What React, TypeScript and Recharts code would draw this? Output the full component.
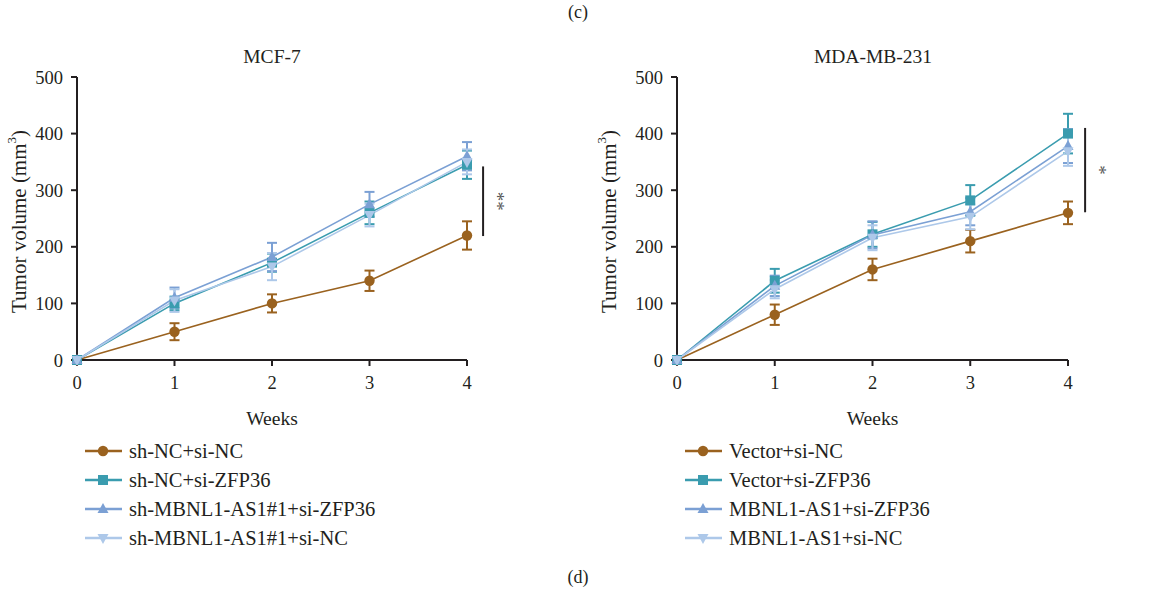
import React from "react";
import {
  LineChart,
  Line,
  XAxis,
  YAxis,
  ErrorBar,
  ReferenceLine,
} from "recharts";

const weeks = [0, 1, 2, 3, 4];
const yTicks = [0, 100, 200, 300, 400, 500];

// MCF-7
const mcfNames = [
  "sh-NC+si-NC",
  "sh-NC+si-ZFP36",
  "sh-MBNL1-AS1#1+si-ZFP36",
  "sh-MBNL1-AS1#1+si-NC",
];
const mcfMeans = [
  [0, 50, 100, 140, 220],
  [0, 100, 172, 260, 345],
  [0, 110, 182, 275, 360],
  [0, 105, 165, 256, 350],
];
const mcfErrs = [
  [0, 15, 16, 18, 25],
  [0, 12, 16, 20, 25],
  [0, 18, 25, 22, 25],
  [0, 20, 24, 20, 22],
];

// MDA-MB-231
const mdaNames = [
  "Vector+si-NC",
  "Vector+si-ZFP36",
  "MBNL1-AS1+si-ZFP36",
  "MBNL1-AS1+si-NC",
];
const mdaMeans = [
  [0, 80, 160, 210, 260],
  [0, 140, 222, 282, 400],
  [0, 131, 221, 262, 378],
  [0, 125, 216, 253, 369],
];
const mdaErrs = [
  [0, 18, 19, 20, 20],
  [0, 21, 22, 27, 35],
  [0, 18, 24, 24, 30],
  [0, 16, 22, 22, 26],
];

const colors = ["#9a621f", "#3a9caf", "#7ba0d4", "#adc8e9"];
const shapes = ["circle", "square", "up", "down"];
const FONT = "'Liberation Serif', 'DejaVu Serif', serif";
const INK = "#231f20";

function Marker({ cx, cy, shape, color }: any) {
  if (cx == null || cy == null) return null;
  if (shape === "circle") return <circle cx={cx} cy={cy} r={5.2} fill={color} />;
  if (shape === "square")
    return <rect x={cx - 5} y={cy - 5} width={10} height={10} fill={color} />;
  if (shape === "up")
    return (
      <polygon
        points={`${cx},${cy - 6} ${cx - 5.5},${cy + 4} ${cx + 5.5},${cy + 4}`}
        fill={color}
      />
    );
  return (
    <polygon
      points={`${cx},${cy + 6} ${cx - 5.5},${cy - 4} ${cx + 5.5},${cy - 4}`}
      fill={color}
    />
  );
}

function buildRows(means: number[][], errs: number[][]) {
  return weeks.map((w, i) => {
    const row: any = { week: w };
    means.forEach((m, s) => {
      row["s" + s] = m[i];
      row["e" + s] = errs[s][i];
    });
    return row;
  });
}

function Panel({
  means,
  errs,
  width,
  leftW,
  right,
  yLabelX,
  sigTop,
  sigBottom,
  sigX,
  sigText,
}: any) {
  const data = buildRows(means, errs);
  return (
    <LineChart
      width={width}
      height={430}
      data={data}
      margin={{ top: 77, right: right, bottom: 10, left: 0 }}
    >
      <XAxis
        dataKey="week"
        type="number"
        domain={[0, 4]}
        ticks={weeks}
        stroke={INK}
        strokeWidth={2}
        tickSize={6}
        tickMargin={10}
        height={60}
        tick={{ fill: INK, fontSize: 18.5, fontFamily: FONT }}
        tickLine={{ stroke: INK, strokeWidth: 2 }}
        label={{
          content: ({ viewBox }: any) => (
            <text
              x={viewBox.x + viewBox.width / 2}
              y={viewBox.y + 58}
              textAnchor="middle"
              dominantBaseline="central"
              fontSize={19.5}
              fontFamily={FONT}
              fill={INK}
            >
              Weeks
            </text>
          ),
        }}
      />
      <YAxis
        type="number"
        domain={[0, 500]}
        ticks={yTicks}
        width={leftW}
        stroke={INK}
        strokeWidth={2}
        tickSize={6}
        tickMargin={8}
        tick={{ fill: INK, fontSize: 18.5, fontFamily: FONT }}
        tickLine={{ stroke: INK, strokeWidth: 2 }}
        label={{
          content: ({ viewBox }: any) => {
            const cy = viewBox.y + viewBox.height / 2 + 3;
            return (
              <text
                x={yLabelX}
                y={cy}
                transform={`rotate(-90, ${yLabelX}, ${cy})`}
                textAnchor="middle"
                dominantBaseline="central"
                fontSize={21}
                fontFamily={FONT}
                fill={INK}
              >
                Tumor volume (mm
                <tspan fontSize={13} dy={-8}>
                  3
                </tspan>
                <tspan dy={8}>)</tspan>
              </text>
            );
          },
        }}
      />
      <ReferenceLine
        segment={[
          { x: sigX, y: sigBottom },
          { x: sigX, y: sigTop },
        ]}
        stroke={INK}
        strokeWidth={2}
        ifOverflow="visible"
        label={{
          content: ({ viewBox }: any) => {
            const x = viewBox.x + 14;
            const y = viewBox.y + viewBox.height / 2;
            return (
              <text
                x={x}
                y={y}
                transform={`rotate(90, ${x}, ${y})`}
                textAnchor="middle"
                dominantBaseline="central"
                fontSize={19}
                fontFamily={FONT}
                fill="#555"
              >
                {sigText}
              </text>
            );
          },
        }}
      />
      {means.map((_: any, s: number) => (
        <Line
          key={s}
          dataKey={"s" + s}
          stroke={colors[s]}
          strokeWidth={1.6}
          isAnimationActive={false}
          dot={(p: any) => (
            <Marker key={p.index} cx={p.cx} cy={p.cy} shape={shapes[s]} color={colors[s]} />
          )}
          activeDot={false}
        >
          <ErrorBar
            dataKey={"e" + s}
            direction="y"
            width={5}
            stroke={colors[s]}
            strokeWidth={2}
          />
        </Line>
      ))}
    </LineChart>
  );
}

function LegendBox({ names, left }: any) {
  return (
    <svg
      width={360}
      height={120}
      style={{ position: "absolute", left: left, top: 436 }}
    >
      {names.map((n: string, i: number) => {
        const y = 15 + i * 29;
        return (
          <g key={n}>
            <line x1={2} x2={39} y1={y} y2={y} stroke={colors[i]} strokeWidth={2.5} />
            <Marker cx={20} cy={y} shape={shapes[i]} color={colors[i]} />
            <text
              x={46}
              y={y}
              dominantBaseline="central"
              fontSize={20.5}
              fontFamily={FONT}
              fill={INK}
            >
              {n}
            </text>
          </g>
        );
      })}
    </svg>
  );
}

const caption: React.CSSProperties = {
  position: "absolute",
  fontFamily: FONT,
  color: INK,
  fontSize: 19.5,
  transform: "translate(-50%, -50%)",
  whiteSpace: "nowrap",
};

export default function App() {
  return (
    <div
      style={{
        position: "absolute",
        left: 0,
        top: 0,
        width: 1155,
        height: 590,
        background: "#fff",
        overflow: "hidden",
      }}
    >
      <div style={{ ...caption, left: 578, top: 12, fontSize: 18 }}>(c)</div>
      <div style={{ ...caption, left: 272, top: 57 }}>MCF-7</div>
      <div style={{ ...caption, left: 873, top: 57 }}>MDA-MB-231</div>
      <div style={{ position: "absolute", left: 0, top: 0 }}>
        <Panel
          means={mcfMeans}
          errs={mcfErrs}
          width={580}
          leftW={77}
          right={113}
          yLabelX={19}
          sigX={4.165}
          sigTop={342}
          sigBottom={219}
          sigText="**"
        />
      </div>
      <div style={{ position: "absolute", left: 580, top: 0 }}>
        <Panel
          means={mdaMeans}
          errs={mdaErrs}
          width={575}
          leftW={97}
          right={87}
          yLabelX={29}
          sigX={4.175}
          sigTop={410}
          sigBottom={261}
          sigText="*"
        />
      </div>
      <LegendBox names={mcfNames} left={83} />
      <LegendBox names={mdaNames} left={683} />
      <div style={{ ...caption, left: 578, top: 577, fontSize: 18 }}>(d)</div>
    </div>
  );
}
